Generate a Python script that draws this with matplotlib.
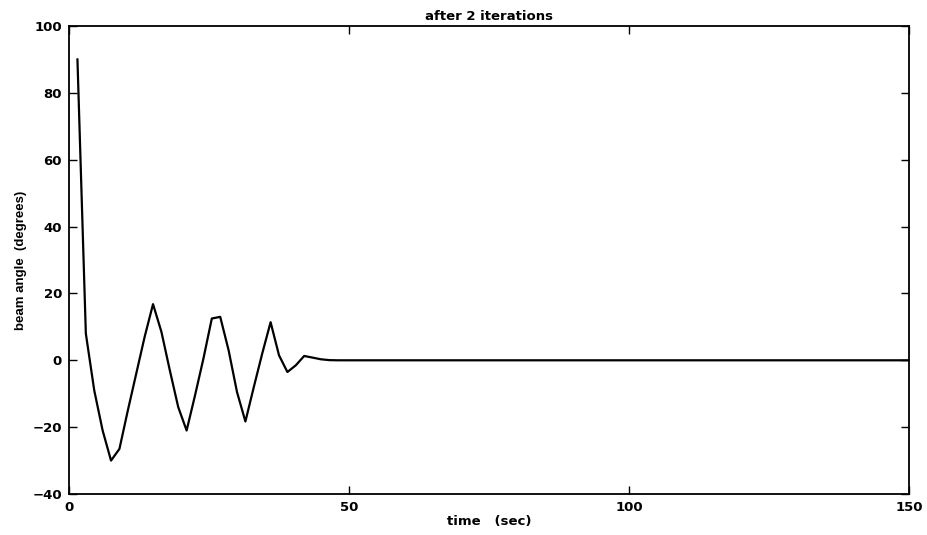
import matplotlib
matplotlib.use("Agg")
import matplotlib.pyplot as plt

plt.rcParams['font.family'] = ['DejaVu Sans']

# beam angle response
time_sec = [1.5, 3, 4.5, 6, 7.5, 9, 10.5, 12, 13.5, 15, 16.5, 18, 19.5, 21,
            22.5, 24, 25.5, 27, 28.5, 30, 31.5, 33, 34.5, 36, 37.5, 39, 40.5,
            42, 43.5, 45, 46.5, 48, 150]
beam_angle = [90, 8, -9, -21, -30, -26.5, -15, -4, 7, 16.8, 8.5, -3, -14, -21,
              -10.5, 0.5, 12.5, 13, 3, -9.5, -18.3, -8, 2, 11.4, 1.5, -3.5, -1.5,
              1.3, 0.8, 0.3, 0.05, 0, 0]

x_ticks = [0, 50, 100, 150]
y_ticks = [-40, -20, 0, 20, 40, 60, 80, 100]

fig = plt.figure(figsize=(9.28, 5.35), dpi=100)
ax = fig.add_axes([0.0744, 0.0766, 0.905, 0.8748])

ax.plot(time_sec, beam_angle, color='black', linewidth=1.6)

ax.set_xlim(0, 150)
ax.set_ylim(-40, 100)
ax.set_xticks(x_ticks)
ax.set_yticks(y_ticks)
ax.tick_params(direction='in', length=6, width=1, top=True, right=True,
               labelsize=9.5, pad=5)
for lbl in ax.get_xticklabels() + ax.get_yticklabels():
    lbl.set_fontweight('bold')
for s in ax.spines.values():
    s.set_linewidth(1.3)

ax.set_title('after 2 iterations', fontsize=9.5, fontweight='bold', pad=4)
ax.set_xlabel('time   (sec)', fontsize=9.5, fontweight='bold', labelpad=1)
ax.set_ylabel('beam angle  (degrees)', fontsize=9.5, fontweight='bold', labelpad=4,
              family=['Liberation Sans Narrow', 'Liberation Sans'])

fig.savefig('out.png', dpi=100)
